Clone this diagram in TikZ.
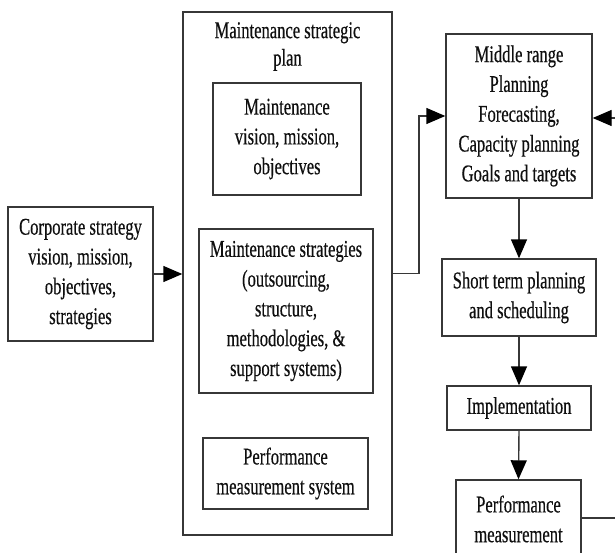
\documentclass[tikz,border=0pt]{standalone}
\usepackage{fontspec}
\setmainfont{Liberation Serif}[FakeStretch=0.69,FakeBold=0.4]
\usetikzlibrary{arrows.meta}
\definecolor{linec}{RGB}{55,55,55}
\definecolor{txtc}{RGB}{15,15,15}
\begin{document}
\begin{tikzpicture}[x=1pt,y=-1pt,
  box/.style={draw=linec, line width=1.4pt, rectangle, inner sep=0pt, align=center, text=txtc, font=\fontsize{24}{29.8}\selectfont},
  lbl/.style={inner sep=0pt, align=center, text=txtc, font=\fontsize{24}{27.5}\selectfont},
  conn/.style={draw=linec, line width=1.4pt},
  arr/.style={conn, -{Triangle[length=19pt,width=16pt,color=black]}}]
\useasboundingbox (0,0) rectangle (615,552);
\clip (0,0) rectangle (615,552);
\fill[white] (0,0) rectangle (615,552);
% left
\node[box, minimum width=145pt, minimum height=134pt] (corp) at (80.5,274) {Corporate strategy\\vision, mission,\\objectives,\\strategies};
% big box
\node[box, minimum width=209pt, minimum height=523pt] (big) at (287.5,273.5) {};
\node[lbl] (title) at (287.5,46.5) {Maintenance strategic\\plan};
\node[box, minimum width=148pt, minimum height=112pt] (vis) at (287,139) {Maintenance\\vision, mission,\\objectives};
\node[box, minimum width=174pt, minimum height=164pt] (strat) at (286,311) {Maintenance strategies\\(outsourcing,\\structure,\\methodologies, \&\\support systems)};
\node[box, minimum width=165pt, minimum height=71pt] (pms) at (285.5,473.5) {Performance\\measurement system};
% right column
\node[box, minimum width=146pt, minimum height=164pt] (mid) at (519,116) {Middle range\\Planning\\Forecasting,\\Capacity planning\\Goals and targets};
\node[box, minimum width=154pt, minimum height=77pt] (short) at (519,297.5) {Short term planning\\and scheduling};
\node[box, minimum width=144pt, minimum height=44pt] (impl) at (519,408) {Implementation};
\node[box, minimum width=125pt, minimum height=78pt] (perf) at (518.5,519) {Performance\\measurement};
% free ends
\coordinate (rin) at (615,118);
\coordinate (rout) at (615,518);
\coordinate (bend) at (419,273.5);
% connectors
\draw[arr] (corp.east) -- (corp.east -| big.west);
\draw[arr] (big.east) -- (bend) |- (mid.west);
\draw[arr] (rin) -- (rin -| mid.east);
\draw[arr] (mid.south) -- (short.north);
\draw[arr] (short.south) -- (impl.north);
\draw[arr] (impl.south) -- (perf.north);
\draw[conn] (perf.east |- rout) -- (rout);
\end{tikzpicture}
\end{document}
